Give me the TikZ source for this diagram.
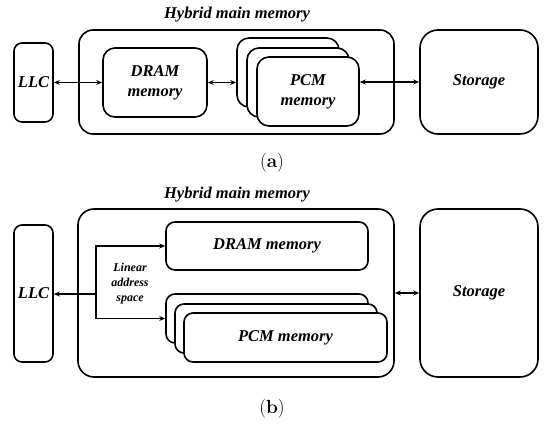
\documentclass[tikz,border=0pt]{standalone}
\usepackage{fontspec}
\newfontfamily\tnr{Liberation Serif}
\usetikzlibrary{arrows.meta}
\begin{document}
\begin{tikzpicture}[x=1pt,y=-1pt,
  bx/.style={draw,line width=1.6pt,fill=white,inner sep=0pt,align=center,
    font=\tnr\fontsize{16.5}{20}\selectfont\bfseries\itshape},
  lbl/.style={font=\tnr\fontsize{16.5}{20}\selectfont\bfseries\itshape,inner sep=0pt},
  small/.style={align=center,inner sep=0pt,font=\tnr\fontsize{12}{15}\selectfont\bfseries\itshape},
  con/.style={line width=1.1pt,{Stealth[length=6pt,width=5pt]}-{Stealth[length=6pt,width=5pt]}},
  con1/.style={line width=1.1pt,-{Stealth[length=6pt,width=5pt]}},
  captxt/.style={font=\fontsize{19}{22}\selectfont,inner sep=0pt}]
\useasboundingbox (0,0) rectangle (550,425);
% ---------- (a) ----------
\node[bx,rounded corners=8pt,minimum width=39pt,minimum height=79pt] (llc) at (33.5,82.5) {LLC};
\node[bx,rounded corners=14pt,minimum width=315pt,minimum height=104pt] (hyb) at (236.5,82) {};
\node[lbl] (hybt) at (237,15) {Hybrid main memory};
\node[bx,rounded corners=12pt,minimum width=104pt,minimum height=69pt] (dram) at (155,82.5) {DRAM\\memory};
\node[bx,rounded corners=12pt,minimum width=102pt,minimum height=69pt] (pcmA) at (288,72.5) {};
\node[bx,rounded corners=12pt,minimum width=102pt,minimum height=69pt] (pcmB) at (298,82.5) {};
\node[bx,rounded corners=12pt,minimum width=102pt,minimum height=69pt] (pcmC) at (308,91.5) {PCM\\memory};
\node[bx,rounded corners=18pt,minimum width=118pt,minimum height=104pt] (sto) at (479,82) {Storage};
\draw[con] (llc) -- (dram);
\draw[con] (dram.east) -- (dram.east -| pcmA.west);
\draw[con] (sto.west -| pcmC.east) -- (sto.west);
\node[captxt] (capa) at (272,163) {(\textbf{a})};
% ---------- (b) ----------
\node[bx,rounded corners=8pt,minimum width=39pt,minimum height=137pt] (llc2) at (33.5,293.5) {LLC};
\node[bx,rounded corners=16pt,minimum width=316pt,minimum height=168pt] (hyb2) at (236,293) {};
\node[lbl] (hybt2) at (237,195) {Hybrid main memory};
\node[bx,rounded corners=9pt,minimum width=202pt,minimum height=48pt] (dram2) at (267,246) {DRAM memory};
\node[bx,rounded corners=9pt,minimum width=202pt,minimum height=49pt] (pcm2A) at (267,318.5) {};
\node[bx,rounded corners=9pt,minimum width=202pt,minimum height=49pt] (pcm2B) at (276,328.5) {};
\node[bx,rounded corners=9pt,minimum width=203pt,minimum height=49pt] (pcm2C) at (285.5,337.5) {PCM memory};
\node[bx,rounded corners=18pt,minimum width=118pt,minimum height=168pt] (sto2) at (479,293) {Storage};
\node[small] (las) at (130,284) {Linear\\address\\space};
\coordinate (br) at (96,294);
\draw[con1] (br) -- (br -| llc2.east);
\draw[con1] (br) |- (dram2.west);
\draw[con1] (br) |- (pcm2A.west);
\draw[con] (hyb2.east) -- (hyb2.east -| sto2.west);
\node[captxt] (capb) at (272,409) {(\textbf{b})};
\end{tikzpicture}
\end{document}
